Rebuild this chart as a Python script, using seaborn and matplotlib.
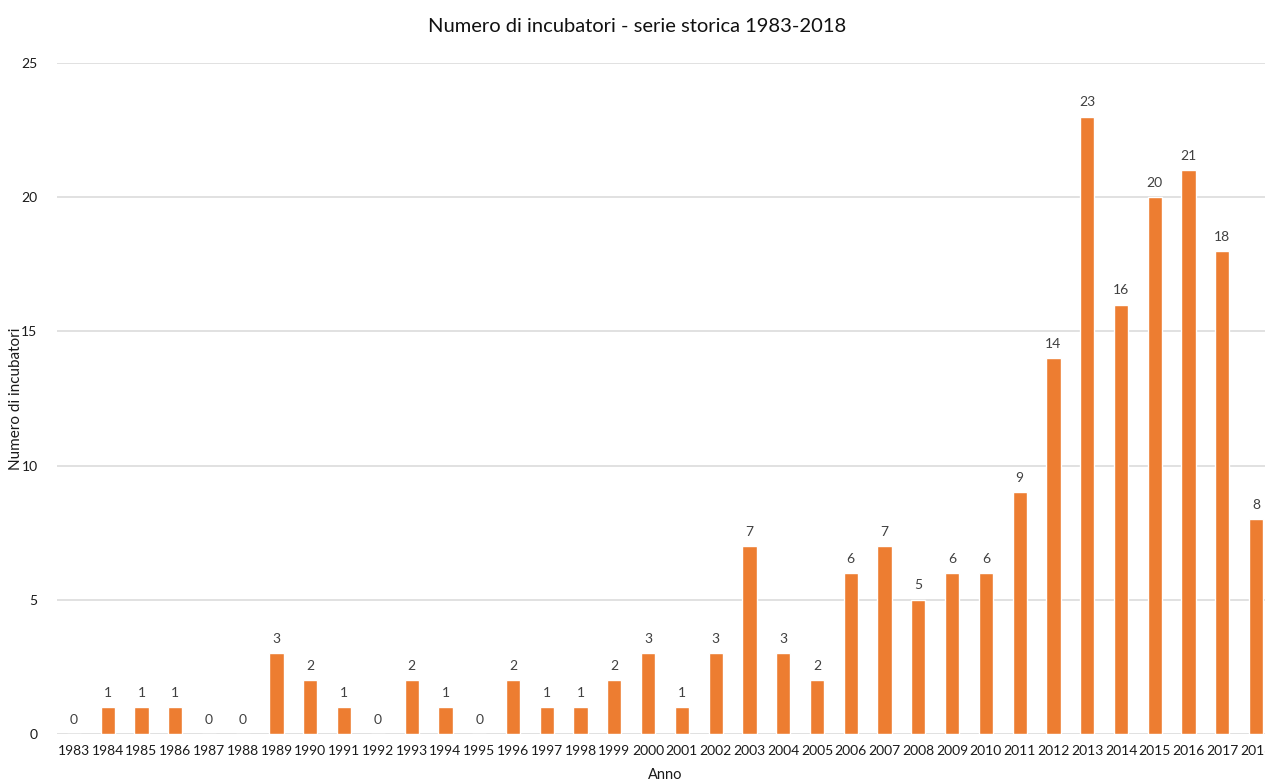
import matplotlib
matplotlib.use("Agg")
import matplotlib.pyplot as plt
import seaborn as sns
import pandas as pd

anni = [str(a) for a in range(1983, 2019)]
incubatori = [0, 1, 1, 1, 0, 0, 3, 2, 1, 0, 2, 1, 0, 2, 1, 1, 2, 3, 1, 3,
              7, 3, 2, 6, 7, 5, 6, 6, 9, 14, 23, 16, 20, 21, 18, 8]
y_ticks = [0, 5, 10, 15, 20, 25]

sns.set_theme(style="white")
plt.rcParams["font.family"] = ["Lato", "DejaVu Sans"]

df = pd.DataFrame({"Anno": anni, "Numero": incubatori})

W, H = 1265, 783
fig = plt.figure(figsize=(W / 100, H / 100), dpi=100)
left, right, bottom, top = 57, 1273, 734, 63
ax = fig.add_axes([left / W, 1 - bottom / H, (right - left) / W, (bottom - top) / H])

sns.barplot(data=df, x="Anno", y="Numero", color="#ED7D31", saturation=1,
            width=0.42, ax=ax, zorder=3)

for i, v in enumerate(incubatori):
    ax.annotate(str(v), (i, v), xytext=(0, 6), textcoords="offset points",
                ha="center", va="bottom", fontsize=10, color="#404040")

ax.set_xlim(-0.5, len(anni) - 0.5)
ax.set_ylim(0, 25)
ax.set_yticks(y_ticks)
ax.yaxis.grid(True, color="#d9d9d9", linewidth=1.1, zorder=0)
ax.set_axisbelow(True)
for s in ax.spines.values():
    s.set_visible(False)
ax.tick_params(axis="both", length=0, labelsize=10, colors="#1a1a1a")
ax.tick_params(axis="y", pad=14)
ax.tick_params(axis="x", pad=8)

ax.set_xlabel("Anno", fontsize=10.5, color="#1a1a1a")
ax.set_ylabel("Numero di incubatori", fontsize=11, color="#1a1a1a")
ax.yaxis.set_label_coords((16 - left) / (right - left), 0.5)
ax.xaxis.set_label_coords(0.5, -(775 - bottom) / (bottom - top))
ax.xaxis.label.set_va("center")
ax.yaxis.label.set_va("center")
fig.text(637 / W, 1 - 26 / H, "Numero di incubatori - serie storica 1983-2018",
         ha="center", va="center", fontsize=14.5, color="#111111")

fig.savefig("out.png", dpi=100)
